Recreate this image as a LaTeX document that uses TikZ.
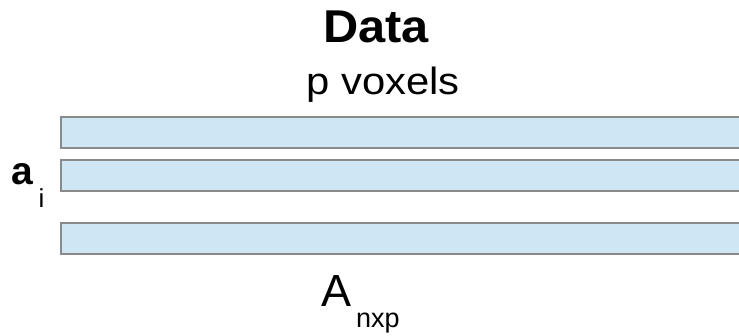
\documentclass[tikz,border=0pt]{standalone}
\usepackage{fontspec}
\setmainfont{Liberation Sans}
\definecolor{barfill}{HTML}{CFE6F4}
\definecolor{barline}{HTML}{8A8A8A}
\begin{document}
\begin{tikzpicture}[x=1pt,y=-1pt,
  lbl/.style={inner sep=0pt,outer sep=0pt,text=black},
  bar/.style={draw=barline,line width=1.6pt,fill=barfill}]
\useasboundingbox (0,0) rectangle (739,336);
\clip (0,0) rectangle (739,336);
\node[lbl,anchor=base] (title) at (376,43) {\scalebox{1.06}[1]{\fontsize{46}{50}\selectfont\bfseries Data}};
\node[lbl,anchor=base] (pvox) at (383,95) {\scalebox{1.1}[1]{\fontsize{38}{42}\selectfont p voxels}};
\path[bar] (61,117) rectangle (760,148);
\path[bar] (61,160) rectangle (760,191);
\path[bar] (61,223) rectangle (760,254);
\node[lbl,anchor=base west] (a) at (12,185) {\fontsize{39}{42}\selectfont\bfseries a};
\node[lbl,anchor=base west] (i) at (38.5,208) {\fontsize{26}{28}\selectfont i};
\node[lbl,anchor=base west] (A) at (321,307) {\fontsize{45}{48}\selectfont A};
\node[lbl,anchor=base west] (nxp) at (356,328) {\fontsize{27}{30}\selectfont nxp};
\end{tikzpicture}
\end{document}
